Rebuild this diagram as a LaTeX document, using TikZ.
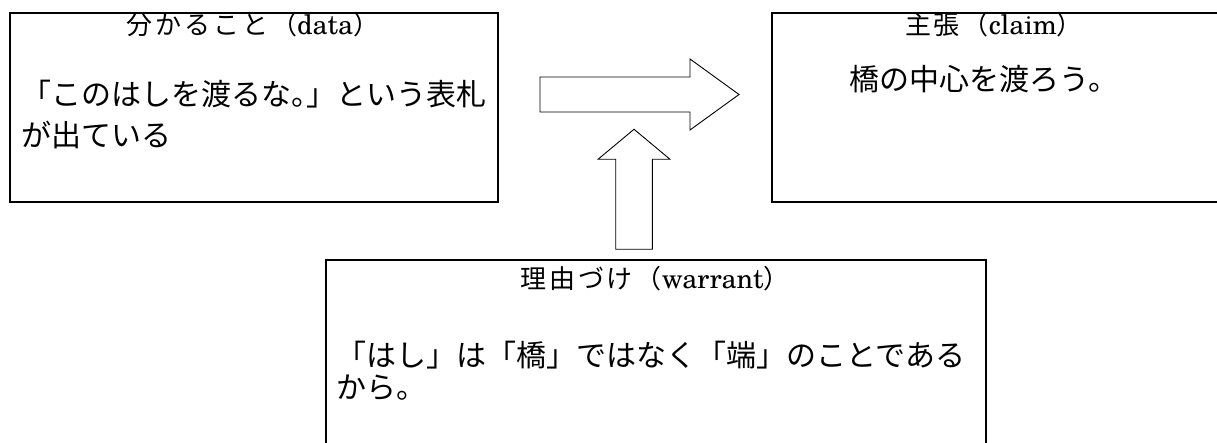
\documentclass[tikz,border=0pt]{standalone}
\usepackage{fontspec}
\newfontfamily\jp{Noto Sans CJK JP}
\newfontfamily\jpt{Noto Sans CJK JP}[LetterSpace=11]
\newfontfamily\lat{TeX Gyre Schola}
\begin{document}
\begin{tikzpicture}[x=1pt,y=-1pt,
  boxstyle/.style={draw=black, line width=1.6pt, inner sep=0pt, anchor=north west},
  blockarrow/.style={draw=black, line width=0.9pt, fill=white, line join=miter},
  titletext/.style={inner sep=0pt, anchor=base},
  bodytext/.style={font=\fontsize{30}{36}\selectfont\jp, inner sep=0pt, anchor=base west},
  bodycenter/.style={font=\fontsize{30}{36}\selectfont\jp, inner sep=0pt, anchor=base}]
\newcommand{\jtt}[1]{{\fontsize{26}{30}\selectfont\jpt #1}}
\newcommand{\ltt}[1]{{\fontsize{27}{30}\selectfont\lat #1}}
\useasboundingbox (0,0) rectangle (1217,443);
\clip (0,0) rectangle (1217,443);
% boxes
\node[boxstyle, minimum width=488pt, minimum height=189pt] (data) at (9,12) {};
\node[boxstyle, minimum width=480pt, minimum height=189pt] (claim) at (771,12) {};
\node[boxstyle, minimum width=660pt, minimum height=220pt] (warrant) at (325,259) {};
% titles
\node[titletext] (datatitle) at (253,35) {\jtt{分かること（}\ltt{data}\jtt{）}};
\node[titletext] (claimtitle) at (994,35) {\jtt{主張（}\ltt{claim}\jtt{）}};
\node[titletext] (warranttitle) at (655,289) {\jtt{理由づけ（}\ltt{warrant}\jtt{）}};
% body texts
\node[bodytext] (data1) at (21,105.4) {「このはしを渡るな。\kern-15pt」という表札};
\node[bodytext] (data2) at (21,146.4) {が出ている};
\node[bodycenter] (claim1) at (984,91) {橋の中心を渡ろう。};
\node[bodytext] (warrant1) at (336,366) {「はし」は「橋」ではなく「端」のことである};
\node[bodytext] (warrant2) at (336,398) {から。};
% block arrows
\coordinate (rtip) at (739,94.5);
\coordinate (utip) at (634,129.3);
\draw[blockarrow] (540,77) -- (690,77) -- (690,59) -- (rtip) -- (690,130) -- (690,112) -- (540,112) -- cycle;
\draw[blockarrow] (utip) -- (670,159.3) -- (652.3,159.3) -- (652.3,249.3) -- (615.7,249.3) -- (615.7,159.3) -- (598,159.3) -- cycle;
\end{tikzpicture}
\end{document}
